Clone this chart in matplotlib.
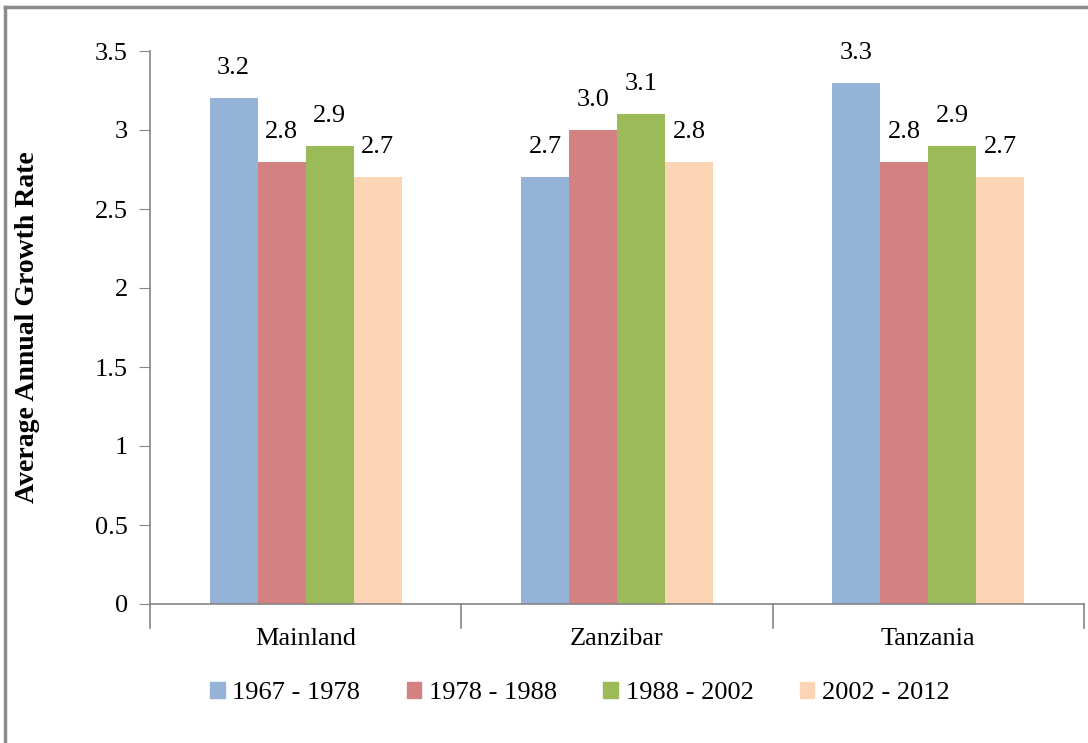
import numpy as np
from matplotlib import pyplot as plt
from matplotlib.lines import Line2D

plt.rcParams["font.family"] = ["Liberation Serif", "DejaVu Serif"]

regions = ["Mainland", "Zanzibar", "Tanzania"]
periods = ["1967 - 1978", "1978 - 1988", "1988 - 2002", "2002 - 2012"]
rates = [
    [3.2, 2.7, 3.3],   # 1967 - 1978
    [2.8, 3.0, 2.8],   # 1978 - 1988
    [2.9, 3.1, 2.9],   # 1988 - 2002
    [2.7, 2.8, 2.7],   # 2002 - 2012
]
colors = ["#95B3D7", "#D38181", "#9BBB59", "#FCD5B5"]
gray = "#868686"

W, H = 1088, 743
fig = plt.figure(figsize=(W/100, H/100), dpi=100)
ax = fig.add_axes([150/W, 1-604/H, (1084-150)/W, (604-51)/H])

x = np.arange(len(regions))
bw = 0.617/4
for i, (p, vals) in enumerate(zip(periods, rates)):
    pos = x - 0.617/2 + bw*(i+0.5)
    ax.bar(pos, vals, width=bw, color=colors[i], label=p, zorder=2)
    for xx, v in zip(pos, vals):
        ax.text(xx, v+0.12, "%.1f" % v, ha="center", va="bottom", fontsize=19)

ax.set_xlim(-0.5, 2.5)
ax.set_ylim(0, 3.5)
ax.set_yticks(np.arange(0, 3.51, 0.5))
ax.set_yticklabels(["0", "0.5", "1", "1.5", "2", "2.5", "3", "3.5"])
ax.set_xticks(x)
ax.set_xticklabels(regions)
ax.tick_params(axis="x", length=0, pad=17, labelsize=19)
ax.tick_params(axis="y", length=8, color=gray, pad=8, labelsize=19)
for b in [-0.5, 0.5, 1.5, 2.5]:
    ax.plot([b, b], [0, -0.155], color=gray, lw=1.2, clip_on=False)

for s in ["top", "right"]:
    ax.spines[s].set_visible(False)
for s in ["left", "bottom"]:
    ax.spines[s].set_color(gray)
    ax.spines[s].set_linewidth(1.2)

ax.set_ylabel("Average Annual Growth Rate", fontsize=20, fontweight="bold")
ax.yaxis.set_label_coords((40-150)/(1084-150), 0.5)

handles = [plt.Rectangle((0, 0), 1, 1, color=c) for c in colors]
fig.legend(handles, periods, loc="center", bbox_to_anchor=(580/W, 1-693/H),
           ncol=4, frameon=False, fontsize=19, handlelength=0.55, handleheight=0.55,
           handletextpad=0.3, columnspacing=1.75)

# outer frame (left and top edges visible)
fig.add_artist(Line2D([5/W, 5/W], [0, 1-7/H], color="#8c8c8c", lw=2.5, transform=fig.transFigure))
fig.add_artist(Line2D([5/W, 1], [1-7/H, 1-7/H], color="#8c8c8c", lw=2.5, transform=fig.transFigure))

fig.savefig("out.png", dpi=100)
